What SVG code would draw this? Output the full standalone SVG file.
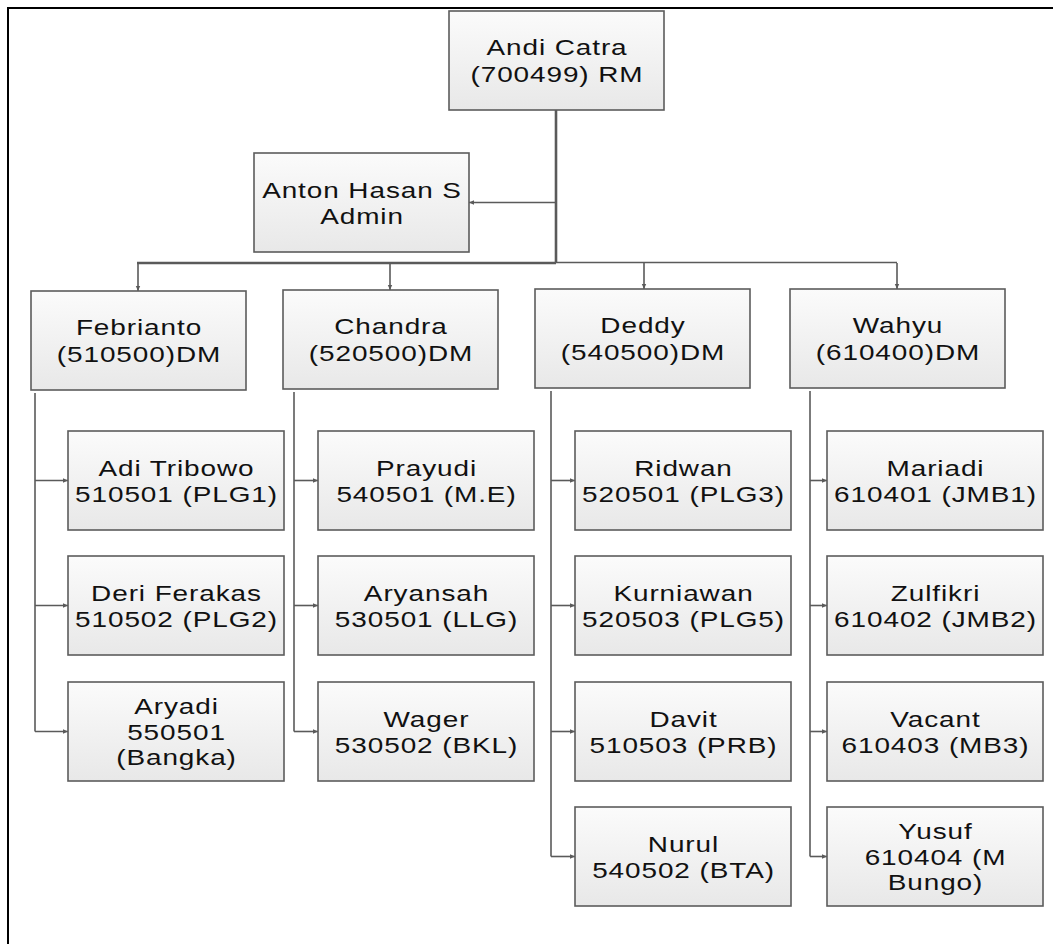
<svg xmlns="http://www.w3.org/2000/svg" width="1057" height="944" viewBox="0 0 1057 944">
<defs>
<linearGradient id="g" x1="0" y1="0" x2="0" y2="1">
<stop offset="0" stop-color="#fbfbfb"/>
<stop offset="1" stop-color="#e8e8e8"/>
</linearGradient>
<marker id="ar" markerUnits="userSpaceOnUse" markerWidth="6" markerHeight="6" refX="5" refY="3" orient="auto">
<path d="M0,0.8 L5,3 L0,5.2 z" fill="#5a5a5a"/>
</marker>
</defs>
<style>
.box{fill:url(#g);stroke:#5c5c5c;stroke-width:1.6}
.t{font-family:"Liberation Sans",Arial,sans-serif;font-size:21.5px;letter-spacing:0.7px;text-anchor:middle;fill:#111}
.c{fill:none;stroke:#5a5a5a;stroke-width:1.6}
.ck{fill:none;stroke:#5a5a5a;stroke-width:2.6}
.a{marker-end:url(#ar)}
.frame{fill:none;stroke:#000;stroke-width:2}
</style>
<rect width="1057" height="944" fill="#fff"/>
<path class="frame" d="M8,944 V8 H1053"/>

<g id="connectors">
<path class="ck" d="M556,110 V263"/>
<path class="ck" d="M137,263 H556"/>
<path class="c" d="M556,262.5 H897"/>
<path class="c a" d="M556,202.5 H469"/>
<path class="c a" d="M138,263 V291"/>
<path class="c a" d="M390,263 V290"/>
<path class="c a" d="M644,263 V289"/>
<path class="c a" d="M897,263 V289"/>
<path class="c" d="M35,393 V731.5"/>
<path class="c" d="M294,392 V731.5"/>
<path class="c" d="M551,391 V856.5"/>
<path class="c" d="M810,391 V856.5"/>
<path class="c a" d="M35,480.5 H68"/>
<path class="c a" d="M35,605.5 H68"/>
<path class="c a" d="M35,731.5 H68"/>
<path class="c a" d="M294,480.5 H318"/>
<path class="c a" d="M294,605.5 H318"/>
<path class="c a" d="M294,731.5 H318"/>
<path class="c a" d="M551,480.5 H575"/>
<path class="c a" d="M551,605.5 H575"/>
<path class="c a" d="M551,731.5 H575"/>
<path class="c a" d="M551,856.5 H575"/>
<path class="c a" d="M810,480.5 H827"/>
<path class="c a" d="M810,605.5 H827"/>
<path class="c a" d="M810,731.5 H827"/>
<path class="c a" d="M810,856.5 H827"/>
</g>

<g id="andi"><rect class="box" x="449" y="11" width="215" height="99"/>
<g transform="translate(557,0) scale(1.3,1)"><text class="t" x="0" y="55">Andi Catra</text><text class="t" x="0" y="82">(700499) RM</text></g></g>
<g id="anton"><rect class="box" x="254" y="153" width="215" height="99"/>
<g transform="translate(362,0) scale(1.3,1)"><text class="t" x="0" y="198.5">Anton Hasan S</text><text class="t" x="0" y="224">Admin</text></g></g>

<g id="febrianto"><rect class="box" x="31" y="291" width="215" height="99"/>
<g transform="translate(139,0) scale(1.3,1)"><text class="t" x="0" y="335.5">Febrianto</text><text class="t" x="0" y="362.5">(510500)DM</text></g></g>
<g id="chandra"><rect class="box" x="283" y="290" width="215" height="99"/>
<g transform="translate(391,0) scale(1.3,1)"><text class="t" x="0" y="334.5">Chandra</text><text class="t" x="0" y="361.5">(520500)DM</text></g></g>
<g id="deddy"><rect class="box" x="535" y="289" width="215" height="99"/>
<g transform="translate(643,0) scale(1.3,1)"><text class="t" x="0" y="333.5">Deddy</text><text class="t" x="0" y="360.5">(540500)DM</text></g></g>
<g id="wahyu"><rect class="box" x="790" y="289" width="215" height="99"/>
<g transform="translate(898,0) scale(1.3,1)"><text class="t" x="0" y="333.5">Wahyu</text><text class="t" x="0" y="360.5">(610400)DM</text></g></g>

<g id="adi"><rect class="box" x="68" y="431" width="216" height="99"/>
<g transform="translate(176.5,0) scale(1.3,1)"><text class="t" x="0" y="476.5">Adi Tribowo</text><text class="t" x="0" y="502.5">510501 (PLG1)</text></g></g>
<g id="deri"><rect class="box" x="68" y="556" width="216" height="99"/>
<g transform="translate(176.5,0) scale(1.3,1)"><text class="t" x="0" y="601.5">Deri Ferakas</text><text class="t" x="0" y="627.5">510502 (PLG2)</text></g></g>
<g id="aryadi"><rect class="box" x="68" y="682" width="216" height="99"/>
<g transform="translate(176.5,0) scale(1.3,1)"><text class="t" x="0" y="714">Aryadi</text><text class="t" x="0" y="740">550501</text><text class="t" x="0" y="765">(Bangka)</text></g></g>

<g id="prayudi"><rect class="box" x="318" y="431" width="216" height="99"/>
<g transform="translate(426.5,0) scale(1.3,1)"><text class="t" x="0" y="476.5">Prayudi</text><text class="t" x="0" y="502.5">540501 (M.E)</text></g></g>
<g id="aryansah"><rect class="box" x="318" y="556" width="216" height="99"/>
<g transform="translate(426.5,0) scale(1.3,1)"><text class="t" x="0" y="601.5">Aryansah</text><text class="t" x="0" y="627.5">530501 (LLG)</text></g></g>
<g id="wager"><rect class="box" x="318" y="682" width="216" height="99"/>
<g transform="translate(426.5,0) scale(1.3,1)"><text class="t" x="0" y="727.5">Wager</text><text class="t" x="0" y="753.5">530502 (BKL)</text></g></g>

<g id="ridwan"><rect class="box" x="575" y="431" width="216" height="99"/>
<g transform="translate(683.5,0) scale(1.3,1)"><text class="t" x="0" y="476.5">Ridwan</text><text class="t" x="0" y="502.5">520501 (PLG3)</text></g></g>
<g id="kurniawan"><rect class="box" x="575" y="556" width="216" height="99"/>
<g transform="translate(683.5,0) scale(1.3,1)"><text class="t" x="0" y="601.5">Kurniawan</text><text class="t" x="0" y="627.5">520503 (PLG5)</text></g></g>
<g id="davit"><rect class="box" x="575" y="682" width="216" height="99"/>
<g transform="translate(683.5,0) scale(1.3,1)"><text class="t" x="0" y="727.5">Davit</text><text class="t" x="0" y="753.5">510503 (PRB)</text></g></g>
<g id="nurul"><rect class="box" x="575" y="807" width="216" height="99"/>
<g transform="translate(683.5,0) scale(1.3,1)"><text class="t" x="0" y="852.5">Nurul</text><text class="t" x="0" y="878.5">540502 (BTA)</text></g></g>

<g id="mariadi"><rect class="box" x="827" y="431" width="216" height="99"/>
<g transform="translate(935.5,0) scale(1.3,1)"><text class="t" x="0" y="476.5">Mariadi</text><text class="t" x="0" y="502.5">610401 (JMB1)</text></g></g>
<g id="zulfikri"><rect class="box" x="827" y="556" width="216" height="99"/>
<g transform="translate(935.5,0) scale(1.3,1)"><text class="t" x="0" y="601.5">Zulfikri</text><text class="t" x="0" y="627.5">610402 (JMB2)</text></g></g>
<g id="vacant"><rect class="box" x="827" y="682" width="216" height="99"/>
<g transform="translate(935.5,0) scale(1.3,1)"><text class="t" x="0" y="727.5">Vacant</text><text class="t" x="0" y="753.5">610403 (MB3)</text></g></g>
<g id="yusuf"><rect class="box" x="827" y="807" width="216" height="99"/>
<g transform="translate(935.5,0) scale(1.3,1)"><text class="t" x="0" y="839">Yusuf</text><text class="t" x="0" y="865">610404 (M</text><text class="t" x="0" y="890">Bungo)</text></g></g>
</svg>
